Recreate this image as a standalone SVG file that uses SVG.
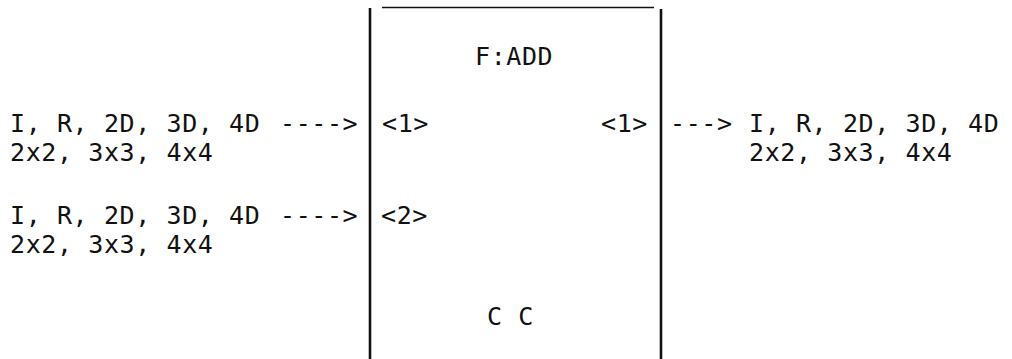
<svg xmlns="http://www.w3.org/2000/svg" width="1012" height="359" viewBox="0 0 1012 359">
<style>
text{font-family:"DejaVu Sans Mono","Liberation Mono",monospace;font-size:25px;letter-spacing:0.6px;fill:#111}
.frame{stroke:#111;stroke-width:2.6;fill:none}
.top{stroke:#111;stroke-width:1.6;fill:none}
</style>
<rect width="1012" height="359" fill="#fff"/>
<g id="function-block">
<line class="frame" x1="370" y1="8" x2="370" y2="359"/>
<line class="frame" x1="661" y1="9" x2="661" y2="359"/>
<line class="top" x1="382" y1="7.5" x2="654" y2="7.5"/>
<text x="475" y="65">F:ADD</text>
<text x="382" y="132">&lt;1&gt;</text>
<text x="601" y="132">&lt;1&gt;</text>
<text x="381" y="224">&lt;2&gt;</text>
<text x="487" y="325">C C</text>
</g>
<g id="input-1">
<text x="10" y="132">I, R, 2D, 3D, 4D</text>
<text x="10" y="161">2x2, 3x3, 4x4</text>
</g>
<g id="input-2">
<text x="10" y="224">I, R, 2D, 3D, 4D</text>
<text x="10" y="253">2x2, 3x3, 4x4</text>
</g>
<g id="output-1">
<text x="749" y="132">I, R, 2D, 3D, 4D</text>
<text x="749" y="161">2x2, 3x3, 4x4</text>
</g>
<g id="connectors">
<text x="280" y="132">----&gt;</text>
<text x="280" y="224">----&gt;</text>
<text x="670" y="132">---&gt;</text>
</g>
</svg>
